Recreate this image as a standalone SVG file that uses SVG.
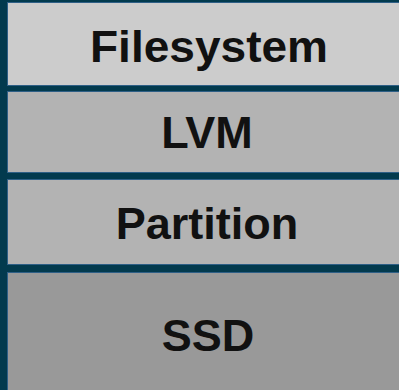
<svg xmlns="http://www.w3.org/2000/svg" width="399" height="390" viewBox="0 0 399 390">
<style>
.box{stroke:#2e5f86;stroke-width:1}
.lbl{font-family:"Liberation Sans",Arial,sans-serif;font-weight:bold;font-size:45px;fill:#111;text-anchor:middle}
</style>
<rect width="399" height="390" fill="#023a4e"/>
<g id="filesystem"><rect class="box" x="7.5" y="2.5" width="400" height="83" fill="#cccccc"/><text class="lbl" x="209" y="62" textLength="238" lengthAdjust="spacingAndGlyphs">Filesystem</text></g>
<g id="lvm"><rect class="box" x="7.5" y="91.5" width="400" height="81" fill="#b3b3b3"/><text class="lbl" x="207" y="148">LVM</text></g>
<g id="partition"><rect class="box" x="7.5" y="179.5" width="400" height="85" fill="#b3b3b3"/><text class="lbl" x="207" y="239">Partition</text></g>
<g id="ssd"><rect class="box" x="7.5" y="272.5" width="400" height="130" fill="#999999"/><text class="lbl" x="208" y="351">SSD</text></g>
<g id="connectors"/>
</svg>
